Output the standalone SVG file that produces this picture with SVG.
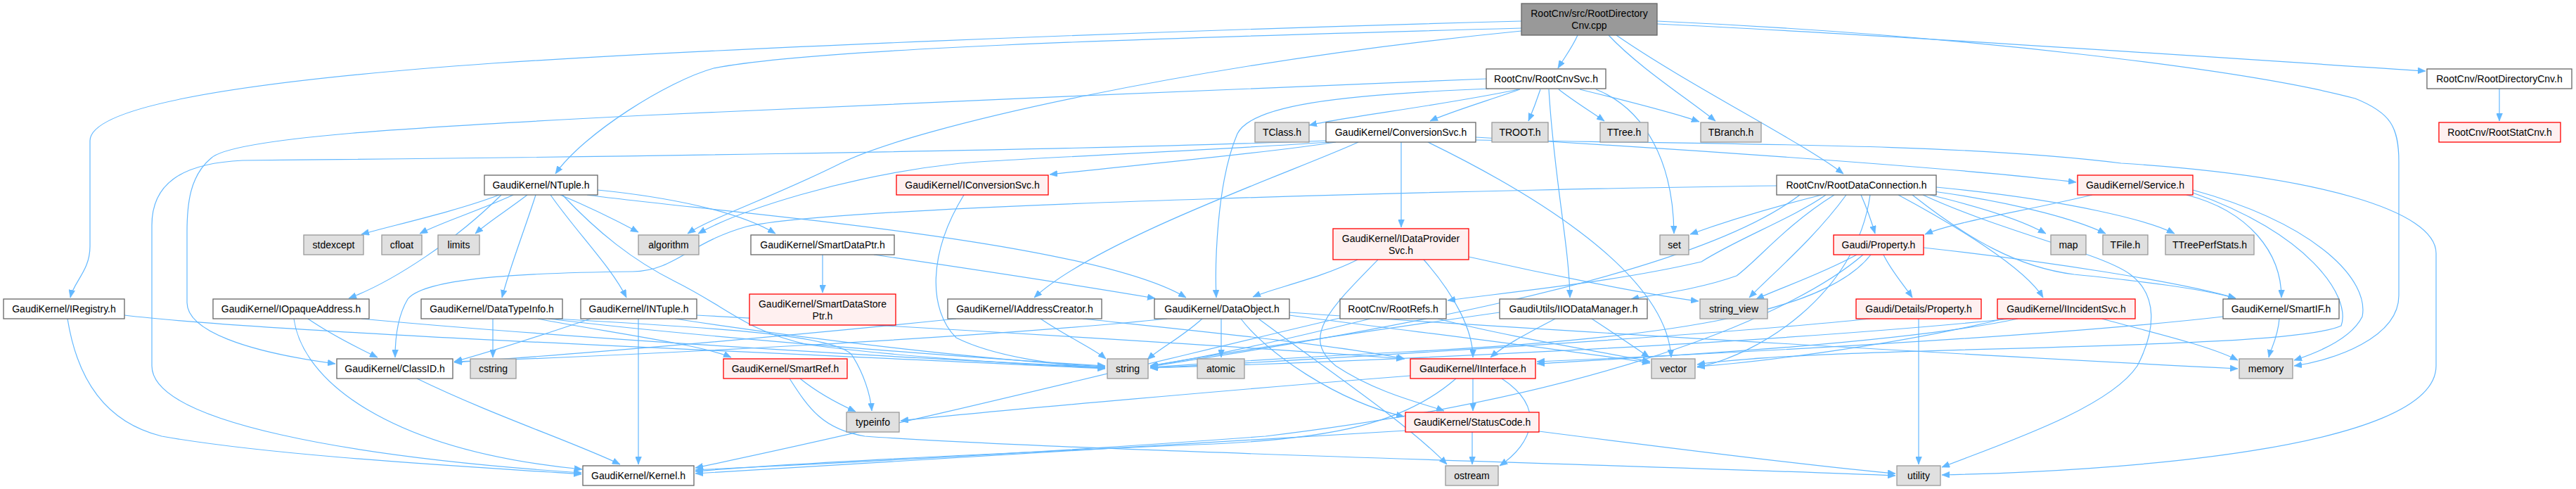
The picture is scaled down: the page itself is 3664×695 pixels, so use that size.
<svg xmlns="http://www.w3.org/2000/svg" width="3664" height="695" viewBox="0 0 3664 695">
<style>
rect{stroke-width:1.3}
.n rect{fill:#ffffff;stroke:#666666}
.g rect{fill:#e0e0e0;stroke:#999999}
.r rect{fill:#fff0f0;stroke:#ff0000}
.root rect{fill:#999999;stroke:#666666}
text{font-family:"Liberation Sans",Arial,Helvetica,sans-serif;font-size:14px;text-anchor:middle;fill:#000}
#edges path{fill:none;stroke:#63b8ff;stroke-width:1.2;marker-end:url(#a)}
</style>
<defs>
<marker id="a" viewBox="0 0 11 9" refX="11" refY="4.5" markerWidth="11" markerHeight="9" markerUnits="userSpaceOnUse" orient="auto"><path d="M0,0 L11,4.5 L0,9 z" fill="#63b8ff" stroke="#63b8ff" stroke-width="0.5"/></marker>
</defs>
<rect x="0" y="0" width="3664" height="695" fill="#ffffff"/>
<g id="edges">
<path d="M2244,50 C2236,68 2225,82 2216,97"/>
<path d="M2288,50 C2330,95 2400,140 2440,172"/>
<path d="M2299,50 C2400,120 2560,200 2622,247"/>
<path d="M2357,34 C2700,50 3200,85 3450,101"/>
<path d="M2357,30 C2800,50 3200,100 3350,140 C3400,160 3412,180 3412,230 L3412,420 C3412,480 3320,512 3263,520"/>
<path d="M2164,30 C1600,45 1000,70 700,90 C350,115 128,150 128,200 L128,350 C128,385 105,400 100,423"/>
<path d="M2164,40 C1600,55 1150,70 1015,97 C950,115 830,190 790,247"/>
<path d="M2164,44 C1700,90 1300,180 1196,232 C1100,280 1010,310 978,332"/>
<path d="M3555,126 L3555,172"/>
<path d="M2160,127 C2050,150 1920,165 1862,178"/>
<path d="M2162,127 C2110,145 2060,160 2034,172"/>
<path d="M2191,127 C2186,142 2180,158 2174,172"/>
<path d="M2217,127 C2240,145 2265,160 2282,172"/>
<path d="M2247,127 C2320,145 2380,160 2417,173"/>
<path d="M2203,127 C2210,250 2232,350 2233,423"/>
<path d="M2270,127 C2340,155 2380,230 2381,332"/>
<path d="M2118,126 C1900,135 1780,150 1760,190 C1730,260 1728,380 1730,423"/>
<path d="M2114,112 C1800,125 1200,150 916,164 C600,180 330,195 300,225 C270,250 266,290 266,330 L266,430 C266,470 350,500 477,517"/>
<path d="M1886,200 C1500,215 700,225 345,228 C260,232 216,260 216,320 L216,520 C216,600 500,650 827,672"/>
<path d="M1900,202 C1800,218 1600,236 1493,248"/>
<path d="M1890,202 C1700,215 1450,225 1366,232 C1200,250 1050,300 993,332"/>
<path d="M1932,202 C1850,240 1560,340 1471,423"/>
<path d="M1993,202 L1993,323"/>
<path d="M2031,202 C2150,260 2370,380 2377,508"/>
<path d="M2099,195 C2400,212 2800,240 2953,259"/>
<path d="M2099,199 C2500,205 2800,205 3017,232 C3300,250 3465,300 3465,360 L3465,520 C3465,640 3000,670 2762,675"/>
<path d="M710,277 C650,300 560,320 514,333"/>
<path d="M730,277 C680,300 630,315 597,332"/>
<path d="M750,277 C720,300 695,315 676,332"/>
<path d="M797,277 C840,295 880,315 908,330"/>
<path d="M713,277 C650,340 560,400 496,424"/>
<path d="M762,277 C745,330 725,380 714,423"/>
<path d="M783,277 C820,330 870,380 891,423"/>
<path d="M850,270 C950,280 1050,300 1103,332"/>
<path d="M835,277 C1000,300 1550,340 1687,423"/>
<path d="M800,277 C850,330 900,370 960,400 C1040,440 1060,470 1150,490 C1300,510 1500,520 1572,523"/>
<path d="M96,453 C110,540 150,600 230,620 C400,650 700,665 827,674"/>
<path d="M177,448 C400,475 1200,505 1572,524"/>
<path d="M418,453 C430,540 550,640 828,667"/>
<path d="M438,453 C470,475 510,495 537,508"/>
<path d="M514,453 C800,480 1300,510 1572,522"/>
<path d="M701,453 L701,508"/>
<path d="M765,453 C850,470 1000,490 1040,508"/>
<path d="M780,453 C1000,480 1400,510 1572,520"/>
<path d="M790,453 C1000,465 1190,475 1212,505 C1228,530 1238,560 1240,584"/>
<path d="M908,453 L908,660"/>
<path d="M840,453 C760,480 680,505 646,514"/>
<path d="M960,453 C1200,490 1450,515 1572,521"/>
<path d="M991,448 C1400,470 1800,495 1997,510"/>
<path d="M1170,362 L1170,416"/>
<path d="M1243,362 C1400,385 1560,410 1643,424"/>
<path d="M1371,277 C1320,360 1320,440 1360,480 C1420,510 1520,520 1572,523"/>
<path d="M1931,369 C1880,395 1810,410 1782,422"/>
<path d="M1960,369 C1890,440 1850,480 1900,520 C1960,560 2030,575 2054,584"/>
<path d="M2025,369 C2070,420 2095,470 2095,508"/>
<path d="M2089,365 C2200,390 2350,420 2416,428"/>
<path d="M2527,264 C2200,268 1200,290 1062,322 C980,345 960,385 900,386 C700,388 600,400 580,425 C565,450 562,480 562,508"/>
<path d="M2591,277 C2500,300 2440,320 2404,333"/>
<path d="M2597,277 C2550,310 2470,340 2420,372 C2300,400 2150,415 2059,427"/>
<path d="M2609,277 C2540,320 2500,370 2470,392 C2420,410 2360,418 2320,425"/>
<path d="M2626,277 C2580,340 2520,390 2488,423"/>
<path d="M2647,277 C2655,295 2662,315 2667,332"/>
<path d="M2745,277 C2820,295 2880,315 2910,332"/>
<path d="M2750,272 C2880,290 2960,315 2995,332"/>
<path d="M2754,266 C2950,285 3060,315 3093,332"/>
<path d="M2700,277 C2780,320 2880,380 2906,423"/>
<path d="M2720,277 C2800,340 2870,380 2950,390 C3050,400 3130,410 3180,424"/>
<path d="M2560,277 C2400,400 1900,480 1636,521"/>
<path d="M2660,277 C2640,420 2500,505 2414,522"/>
<path d="M2735,277 C2850,330 2990,360 3030,390 C3070,420 3066,470 3040,520 C3000,580 2850,630 2762,664"/>
<path d="M2976,277 C2880,300 2780,315 2738,333"/>
<path d="M3110,277 C3200,300 3245,360 3245,423"/>
<path d="M3119,270 C3300,320 3370,400 3360,450 C3345,480 3300,500 3263,512"/>
<path d="M3119,274 C3280,330 3345,420 3330,463 C3250,500 2600,490 2414,518"/>
<path d="M2679,362 C2690,385 2708,405 2720,423"/>
<path d="M2641,362 C2590,390 2530,410 2498,425"/>
<path d="M2661,362 C2600,440 2400,480 2000,500 C1800,510 1700,518 1636,522"/>
<path d="M2736,352 C2900,370 3100,400 3180,424"/>
<path d="M2650,362 C2560,440 2300,560 1800,620 C1400,650 1100,662 989,668"/>
<path d="M2729,453 L2729,660"/>
<path d="M2660,453 C2400,480 1800,515 1636,523"/>
<path d="M2870,453 C2700,490 2300,510 2186,517"/>
<path d="M2990,453 C3050,470 3140,490 3183,512"/>
<path d="M2850,453 C2700,490 2500,515 2414,521"/>
<path d="M2860,453 C2500,490 1900,515 1636,523"/>
<path d="M3162,450 C2900,480 2400,505 2186,514"/>
<path d="M3242,453 C3240,480 3230,495 3227,508"/>
<path d="M1660,453 C1400,480 900,505 646,514"/>
<path d="M1710,453 C1680,480 1650,495 1632,511"/>
<path d="M1737,453 L1737,508"/>
<path d="M1765,453 C1800,500 1900,570 1997,592"/>
<path d="M1834,448 C2000,470 2250,500 2347,516"/>
<path d="M1834,444 C2200,470 2900,510 3183,524"/>
<path d="M1790,453 C1880,520 2000,600 2058,660"/>
<path d="M1360,453 C1100,480 800,505 646,515"/>
<path d="M1480,453 C1520,480 1555,495 1573,510"/>
<path d="M1540,453 C1700,470 1900,490 1998,510"/>
<path d="M1906,452 C1700,500 1300,600 989,665"/>
<path d="M1949,453 C1800,490 1700,510 1636,520"/>
<path d="M2045,453 C2150,480 2280,500 2347,514"/>
<path d="M2212,453 C2180,470 2140,490 2120,508"/>
<path d="M2264,453 C2290,470 2320,490 2346,508"/>
<path d="M2133,444 C1950,470 1750,500 1636,520"/>
<path d="M2095,538 L2095,584"/>
<path d="M2136,538 C2200,580 2180,630 2133,662"/>
<path d="M2071,538 C2000,600 1900,625 1700,632 C1400,645 1100,660 989,670"/>
<path d="M2006,534 C1800,550 1400,585 1281,598"/>
<path d="M2094,614 L2094,660"/>
<path d="M2189,613 C2400,640 2600,665 2696,673"/>
<path d="M1999,612 C1700,630 1200,660 989,673"/>
<path d="M593,538 C700,590 820,630 882,660"/>
<path d="M1138,538 C1165,560 1195,575 1217,585"/>
<path d="M1123,538 C1150,580 1170,610 1230,620 C1500,640 2300,660 2696,676"/>
</g>
<g id="node_cpp" class="root"><rect x="2164" y="5" width="193" height="45"/><text x="2260.5" y="24">RootCnv/src/RootDirectory</text><text x="2260.5" y="41">Cnv.cpp</text></g>
<g id="node_RootCnvSvc" class="n"><rect x="2114" y="98" width="170" height="28"/><text x="2199" y="117">RootCnv/RootCnvSvc.h</text></g>
<g id="node_RootDirectoryCnv" class="n"><rect x="3452" y="98" width="206" height="28"/><text x="3555" y="117">RootCnv/RootDirectoryCnv.h</text></g>
<g id="node_TClass" class="g"><rect x="1785" y="174" width="77" height="28"/><text x="1823.5" y="193">TClass.h</text></g>
<g id="node_ConversionSvc" class="n"><rect x="1886" y="174" width="213" height="28"/><text x="1992.5" y="193">GaudiKernel/ConversionSvc.h</text></g>
<g id="node_TROOT" class="g"><rect x="2122" y="174" width="80" height="28"/><text x="2162" y="193">TROOT.h</text></g>
<g id="node_TTree" class="g"><rect x="2276" y="174" width="68" height="28"/><text x="2310" y="193">TTree.h</text></g>
<g id="node_TBranch" class="g"><rect x="2419" y="174" width="86" height="28"/><text x="2462" y="193">TBranch.h</text></g>
<g id="node_RootStatCnv" class="r"><rect x="3469" y="174" width="173" height="28"/><text x="3555.5" y="193">RootCnv/RootStatCnv.h</text></g>
<g id="node_NTuple" class="n"><rect x="689" y="249" width="161" height="28"/><text x="769.5" y="268">GaudiKernel/NTuple.h</text></g>
<g id="node_IConversionSvc" class="r"><rect x="1275" y="249" width="216" height="28"/><text x="1383" y="268">GaudiKernel/IConversionSvc.h</text></g>
<g id="node_RootDataConnection" class="n"><rect x="2527" y="249" width="227" height="28"/><text x="2640.5" y="268">RootCnv/RootDataConnection.h</text></g>
<g id="node_Service" class="r"><rect x="2955" y="249" width="164" height="28"/><text x="3037" y="268">GaudiKernel/Service.h</text></g>
<g id="node_stdexcept" class="g"><rect x="432" y="334" width="85" height="28"/><text x="474.5" y="353">stdexcept</text></g>
<g id="node_cfloat" class="g"><rect x="543" y="334" width="57" height="28"/><text x="571.5" y="353">cfloat</text></g>
<g id="node_limits" class="g"><rect x="623" y="334" width="59" height="28"/><text x="652.5" y="353">limits</text></g>
<g id="node_algorithm" class="g"><rect x="908" y="334" width="86" height="28"/><text x="951" y="353">algorithm</text></g>
<g id="node_SmartDataPtr" class="n"><rect x="1068" y="334" width="204" height="28"/><text x="1170" y="353">GaudiKernel/SmartDataPtr.h</text></g>
<g id="node_IDataProviderSvc" class="r"><rect x="1896" y="325" width="193" height="44"/><text x="1992.5" y="344">GaudiKernel/IDataProvider</text><text x="1992.5" y="361">Svc.h</text></g>
<g id="node_set" class="g"><rect x="2361" y="334" width="41" height="28"/><text x="2381.5" y="353">set</text></g>
<g id="node_Property" class="r"><rect x="2608" y="334" width="128" height="28"/><text x="2672" y="353">Gaudi/Property.h</text></g>
<g id="node_map" class="g"><rect x="2917" y="334" width="50" height="28"/><text x="2942" y="353">map</text></g>
<g id="node_TFile" class="g"><rect x="2991" y="334" width="64" height="28"/><text x="3023" y="353">TFile.h</text></g>
<g id="node_TTreePerfStats" class="g"><rect x="3080" y="334" width="126" height="28"/><text x="3143" y="353">TTreePerfStats.h</text></g>
<g id="node_IRegistry" class="n"><rect x="5" y="425" width="172" height="28"/><text x="91" y="444">GaudiKernel/IRegistry.h</text></g>
<g id="node_IOpaqueAddress" class="n"><rect x="303" y="425" width="222" height="28"/><text x="414" y="444">GaudiKernel/IOpaqueAddress.h</text></g>
<g id="node_DataTypeInfo" class="n"><rect x="599" y="425" width="201" height="28"/><text x="699.5" y="444">GaudiKernel/DataTypeInfo.h</text></g>
<g id="node_INTuple" class="n"><rect x="826" y="425" width="165" height="28"/><text x="908.5" y="444">GaudiKernel/INTuple.h</text></g>
<g id="node_SmartDataStorePtr" class="r"><rect x="1066" y="418" width="208" height="44"/><text x="1170" y="437">GaudiKernel/SmartDataStore</text><text x="1170" y="454">Ptr.h</text></g>
<g id="node_IAddressCreator" class="n"><rect x="1348" y="425" width="219" height="28"/><text x="1457.5" y="444">GaudiKernel/IAddressCreator.h</text></g>
<g id="node_DataObject" class="n"><rect x="1642" y="425" width="192" height="28"/><text x="1738" y="444">GaudiKernel/DataObject.h</text></g>
<g id="node_RootRefs" class="n"><rect x="1906" y="425" width="151" height="28"/><text x="1981.5" y="444">RootCnv/RootRefs.h</text></g>
<g id="node_IIODataManager" class="n"><rect x="2133" y="425" width="210" height="28"/><text x="2238" y="444">GaudiUtils/IIODataManager.h</text></g>
<g id="node_string_view" class="g"><rect x="2418" y="425" width="96" height="28"/><text x="2466" y="444">string_view</text></g>
<g id="node_DetailsProperty" class="r"><rect x="2640" y="425" width="178" height="28"/><text x="2729" y="444">Gaudi/Details/Property.h</text></g>
<g id="node_IIncidentSvc" class="r"><rect x="2841" y="425" width="196" height="28"/><text x="2939" y="444">GaudiKernel/IIncidentSvc.h</text></g>
<g id="node_SmartIF" class="n"><rect x="3162" y="425" width="165" height="28"/><text x="3244.5" y="444">GaudiKernel/SmartIF.h</text></g>
<g id="node_ClassID" class="n"><rect x="479" y="510" width="165" height="28"/><text x="561.5" y="529">GaudiKernel/ClassID.h</text></g>
<g id="node_cstring" class="g"><rect x="669" y="510" width="65" height="28"/><text x="701.5" y="529">cstring</text></g>
<g id="node_SmartRef" class="r"><rect x="1029" y="510" width="176" height="28"/><text x="1117" y="529">GaudiKernel/SmartRef.h</text></g>
<g id="node_string" class="g"><rect x="1575" y="510" width="58" height="28"/><text x="1604" y="529">string</text></g>
<g id="node_atomic" class="g"><rect x="1703" y="510" width="67" height="28"/><text x="1736.5" y="529">atomic</text></g>
<g id="node_IInterface" class="r"><rect x="2006" y="510" width="178" height="28"/><text x="2095" y="529">GaudiKernel/IInterface.h</text></g>
<g id="node_vector" class="g"><rect x="2349" y="510" width="62" height="28"/><text x="2380" y="529">vector</text></g>
<g id="node_memory" class="g"><rect x="3185" y="510" width="76" height="28"/><text x="3223" y="529">memory</text></g>
<g id="node_typeinfo" class="g"><rect x="1204" y="586" width="75" height="28"/><text x="1241.5" y="605">typeinfo</text></g>
<g id="node_StatusCode" class="r"><rect x="1999" y="586" width="190" height="28"/><text x="2094" y="605">GaudiKernel/StatusCode.h</text></g>
<g id="node_Kernel" class="n"><rect x="829" y="662" width="158" height="28"/><text x="908" y="681">GaudiKernel/Kernel.h</text></g>
<g id="node_ostream" class="g"><rect x="2056" y="662" width="75" height="28"/><text x="2093.5" y="681">ostream</text></g>
<g id="node_utility" class="g"><rect x="2698" y="662" width="62" height="28"/><text x="2729" y="681">utility</text></g>
</svg>
